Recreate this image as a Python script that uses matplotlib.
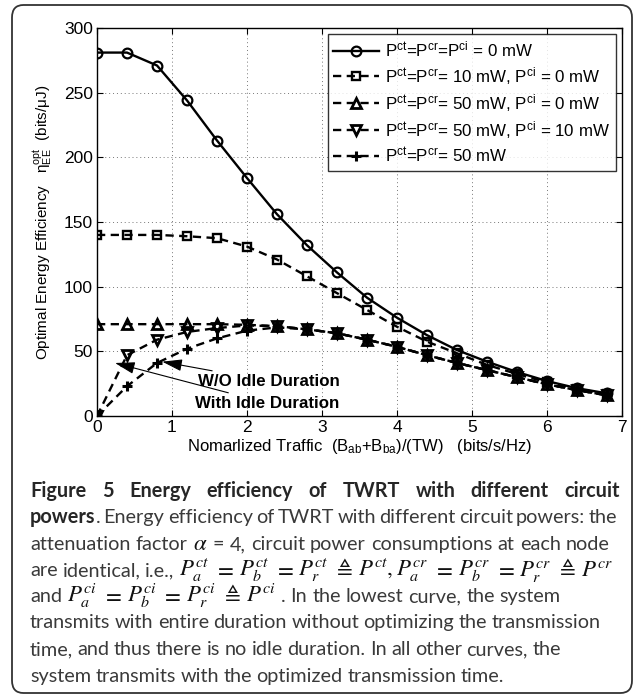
"""Energy efficiency of TWRT vs normalized traffic, with figure caption."""
import matplotlib
matplotlib.use('Agg')
import matplotlib.pyplot as plt
from matplotlib.patches import FancyBboxPatch

W, H = 635, 696

traffic = [0, 0.4, 0.8, 1.2, 1.6, 2.0, 2.4, 2.8, 3.2, 3.6, 4.0, 4.4, 4.8, 5.2, 5.6, 6.0, 6.4, 6.8]
ee_zero = [281, 281, 271, 244, 213, 184, 156, 132, 111, 91.5, 76, 62.5, 51, 42, 34, 27, 21.5, 17.5]
ee_ct10 = [140, 140, 140, 139, 137.5, 131, 121, 108, 95, 82, 69, 57.5, 48.5, 39.5, 32.5, 26, 21, 17]
ee_ct50 = [71, 71, 71, 71, 71, 70.5, 69.5, 67, 64, 59, 53.5, 47, 41, 35.5, 30, 24.5, 20, 16]
ee_ci10 = [0, 47, 59, 65, 68, 70, 69.5, 67, 64, 59, 53.5, 47, 41, 35.5, 30, 24.5, 20, 16]
ee_noidle = [0, 23, 41, 52, 60, 66, 68.5, 67, 64, 59, 53.5, 47, 41, 35.5, 30, 24.5, 20, 16]

labels = [r'P$^{\mathrm{ct}}$=P$^{\mathrm{cr}}$=P$^{\mathrm{ci}}$ = 0 mW',
          r'P$^{\mathrm{ct}}$=P$^{\mathrm{cr}}$= 10 mW, P$^{\mathrm{ci}}$ = 0 mW',
          r'P$^{\mathrm{ct}}$=P$^{\mathrm{cr}}$= 50 mW, P$^{\mathrm{ci}}$ = 0 mW',
          r'P$^{\mathrm{ct}}$=P$^{\mathrm{cr}}$= 50 mW, P$^{\mathrm{ci}}$ = 10 mW',
          r'P$^{\mathrm{ct}}$=P$^{\mathrm{cr}}$= 50 mW']

plt.rcParams['font.family'] = ['Liberation Sans', 'DejaVu Sans']
plt.rcParams['mathtext.fontset'] = 'custom'
plt.rcParams['mathtext.rm'] = 'Liberation Sans'
plt.rcParams['mathtext.it'] = 'Liberation Sans:italic'
plt.rcParams['mathtext.bf'] = 'Liberation Sans:bold'

fig = plt.figure(figsize=(W / 100, H / 100), dpi=100)
fig.add_artist(FancyBboxPatch((12 / W, 1 - 693 / H), 620 / W, 688 / H,
                              boxstyle='round,pad=0,rounding_size=0.018',
                              transform=fig.transFigure, fill=False,
                              edgecolor='#333333', linewidth=1.3))

ax = fig.add_axes([97 / W, 1 - 416 / H, 525 / W, 388 / H])
dash = (3.5, 2.3)
ax.plot(traffic, ee_zero, '-', color='k', lw=1.7, marker='o', ms=7, mfc='none', mew=1.6, label=labels[0])
ax.plot(traffic, ee_ct10, '--', color='k', lw=1.7, dashes=dash, marker='s', ms=5.5, mfc='none', mew=1.7, label=labels[1])
ax.plot(traffic, ee_ct50, '--', color='k', lw=1.7, dashes=dash, marker='^', ms=7.5, mfc='none', mew=2, label=labels[2])
ax.plot(traffic, ee_ci10, '--', color='k', lw=1.7, dashes=dash, marker='v', ms=7.5, mfc='none', mew=2, label=labels[3])
ax.plot(traffic, ee_noidle, '--', color='k', lw=1.7, dashes=dash, marker='+', ms=7.5, mew=2.2, label=labels[4])

ax.set_xlim(0, 7)
ax.set_ylim(0, 300)
ax.set_xticks(range(0, 8))
ax.set_yticks(range(0, 301, 50))
ax.tick_params(direction='in', top=True, right=True, labelsize=12.5, length=4, pad=3)
ax.grid(True, linestyle=(0, (1, 3)), color='#777777', linewidth=0.7)
for s in ax.spines.values():
    s.set_linewidth(1.0)
ax.set_xlabel(r'Nomarlized Traffic  (B$_{\mathrm{ab}}$+B$_{\mathrm{ba}}$)/(TW)   (bits/s/Hz)', fontsize=12, labelpad=1)
ax.set_ylabel(r'Optimal Energy Efficiency   η$^{\mathrm{opt}}_{\mathrm{EE}}$  (bits/μJ)', fontsize=11, labelpad=6)

leg = ax.legend(loc='upper right', fontsize=12.2, handlelength=2.7, frameon=True, fancybox=False,
                edgecolor='k', borderaxespad=0.35, labelspacing=0.3, handletextpad=0.35,
                borderpad=0.35)
leg.get_frame().set_linewidth(1.0)

arrow = dict(arrowstyle='-|>,head_length=1.0,head_width=0.3', color='k', lw=0.8, shrinkA=0, shrinkB=0)
ax.annotate('W/O Idle Duration', xy=(0.87, 42), xytext=(1.34, 27), fontsize=12.2, fontweight='bold',
            va='center', ha='left', arrowprops=arrow)
ax.annotate('With Idle Duration', xy=(0.24, 41), xytext=(1.31, 10), fontsize=12.2, fontweight='bold',
            va='center', ha='left', arrowprops=arrow)

# caption
BODY = dict(family=['Lato', 'DejaVu Sans'], size=14.3, color='#3a3a3a')
BOLD = dict(BODY, weight='bold', color='#262626')
MATH = dict(BODY, size=16.5, math_fontfamily='stix', color='#111111')


def caption_line(runs, y, x0=30, x1=None, gap=4.5):
    """Place words of one caption line, optionally justified to x1."""
    r = fig.canvas.get_renderer()
    words = []
    for s, st in runs:
        parts = [s] if s.startswith('$') else s.split(' ')
        for i, p in enumerate(parts):
            if p == '':
                words.append(None)
                continue
            glue = (i == 0 and words and words[-1] is not None and not s.startswith('$'))
            t = fig.text(0, 1 - y / H, p, ha='left', va='baseline', **st)
            w = t.get_window_extent(r).width
            if glue:
                words[-1].append((t, w))
            else:
                words.append([(t, w)])
    words = [g for g in words if g]
    total = sum(w for g in words for _, w in g)
    if x1 is not None and len(words) > 1:
        gap = max((x1 - x0 - total) / (len(words) - 1), 2.0)
    x = x0
    for g in words:
        for t, w in g:
            t.set_x(x / W)
            x += w
        x += gap


ys = [497, 523, 550, 576, 602, 628, 655, 682]
caption_line([('Figure 5 Energy efficiency of TWRT with different circuit', BOLD)], ys[0], x1=620)
caption_line([('powers', BOLD), ('. Energy efficiency of TWRT with different circuit powers: the', BODY)],
             ys[1], x1=617)
caption_line([('attenuation factor ', BODY), (r'$\alpha$', MATH), (' = 4, circuit power consumptions at each node', BODY)],
             ys[2], x1=610)
caption_line([('are identical, i.e., ', BODY), (r'$P_a^{ct}$', MATH), ('$=$', MATH), (r'$P_b^{ct}$', MATH),
              ('$=$', MATH), (r'$P_r^{ct}$', MATH), (r'$\triangleq$', MATH), (r'$P^{ct},P_a^{cr}$', MATH),
              ('$=$', MATH), (r'$P_b^{cr}$', MATH), ('$=$', MATH), (r'$P_r^{cr}$', MATH),
              (r'$\triangleq$', MATH), (r'$P^{cr}$', MATH)], ys[3], x1=613)
caption_line([('and ', BODY), (r'$P_a^{ci}$', MATH), ('$=$', MATH), (r'$P_b^{ci}$', MATH), ('$=$', MATH),
              (r'$P_r^{ci}$', MATH), (r'$\triangleq$', MATH), (r'$P^{ci}$', MATH),
              (' . In the lowest curve, the system', BODY)], ys[4], gap=5)
caption_line([('transmits with entire duration without optimizing the transmission', BODY)], ys[5])
caption_line([('time, and thus there is no idle duration. In all other curves, the', BODY)], ys[6])
caption_line([('system transmits with the optimized transmission time.', BODY)], ys[7])

fig.savefig('out.png', dpi=100)
